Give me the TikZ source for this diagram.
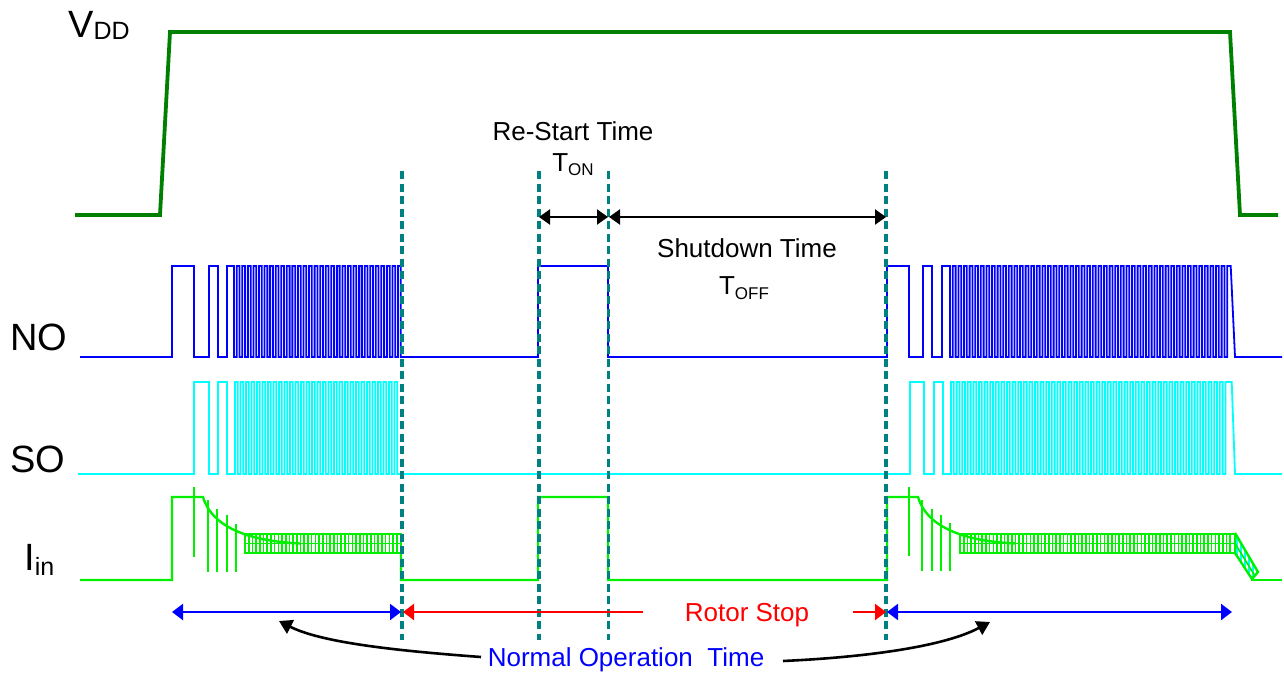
\documentclass[tikz,border=0pt]{standalone}
\usepackage{fontspec}
\setmainfont{Liberation Sans}
\usetikzlibrary{arrows.meta}
\definecolor{vddgreen}{RGB}{0,128,0}
\definecolor{noblue}{RGB}{0,0,255}
\definecolor{socyan}{RGB}{0,255,255}
\definecolor{iingreen}{RGB}{0,240,0}
\definecolor{dashteal}{RGB}{0,128,128}
\definecolor{rotorred}{RGB}{255,0,0}
\newcommand{\fsz}[1]{\fontsize{#1}{#1}\selectfont}
\newcommand{\lowsub}[3]{\raisebox{-#1pt}{\fsz{#2}#3}}
\begin{document}
\begin{tikzpicture}[x=1pt,y=-1pt,
  vddline/.style={vddgreen,line width=3.8pt},
  noline/.style={noblue,line width=1.8pt},
  soline/.style={socyan,line width=1.8pt},
  iinline/.style={iingreen,line width=2.4pt},
  combline/.style={iingreen,line width=1.6pt},
  marker/.style={dashteal,line width=3.4pt,dash pattern=on 8pt off 4.5pt},
  dimarrow/.style={black,line width=2.2pt,{Triangle[length=11pt,width=15pt]}-{Triangle[length=11pt,width=15pt]}},
  bluespan/.style={noblue,line width=2.4pt,{Triangle[length=11pt,width=16pt]}-{Triangle[length=11pt,width=16pt]}},
  redspan/.style={rotorred,line width=2.4pt},
  callout/.style={black,line width=2.6pt,-{Triangle[length=13pt,width=15pt]}},
  lbl/.style={inner sep=0pt,font=\fsz{26}},
  siglbl/.style={inner sep=0pt,font=\fsz{38},anchor=base west}]
\useasboundingbox (0,0) rectangle (1284,674);
\fill[white] (0,0) rectangle (1284,674);

% ---------------- labels ----------------
\node[siglbl] (lvdd) at (68,38) {V\lowsub{2}{25}{DD}};
\node[siglbl] (lno) at (10,350) {NO};
\node[siglbl] (lso) at (10,472) {SO};
\node[siglbl] (liin) at (24,570) {I\lowsub{5}{25}{in}};

% ---------------- VDD ----------------
\draw[vddline] (75,215) -- (160,215) -- (170,32) -- (1230,32) -- (1240,215) -- (1278,215);

% ---------------- NO ----------------
\draw[noline] (80,357) -- (172,357) -- (172,266) -- (194,266) -- (194,357)
  -- (209,357) -- (209,266) -- (218,266) -- (218,357)
  -- (227,357) -- (227,266) -- (234,266) -- (234,357)
  \foreach \i in {1,...,30} { -- ++(2.78,0) -- ++(0,-91) -- ++(2.78,0) -- ++(0,91) }
  -- (538,357) -- (538,266) -- (608,266) -- (608,357)
  -- (887,357) -- (887,266) -- (909,266) -- (909,357)
  -- (923,357) -- (923,266) -- (932,266) -- (932,357)
  -- (942,357) -- (942,266) -- (950,266) -- (950,357)
  \foreach \i in {1,...,49} { -- ++(2.8,0) -- ++(0,-91) -- ++(2.8,0) -- ++(0,91) }
  -- ++(2.8,0) -- ++(0,-91) -- (1230.7,266) -- (1235,357) -- (1282,357);

% ---------------- SO ----------------
\draw[soline] (78,474) -- (194,474) -- (194,382) -- (209,382) -- (209,474)
  -- (218,474) -- (218,382) -- (227,382) -- (227,474) -- (235,474)
  \foreach \i in {1,...,30} { -- ++(0,-92) -- ++(2.75,0) -- ++(0,92) -- ++(2.75,0) }
  -- (910,474) -- (910,382) -- (924,382) -- (924,474)
  -- (934,474) -- (934,382) -- (943,382) -- (943,474) -- (951,474)
  \foreach \i in {1,...,49} { -- ++(0,-92) -- ++(2.8,0) -- ++(0,92) -- ++(2.8,0) }
  -- ++(0,-92) -- (1231.7,382) -- (1235,474) -- (1282,474);

% ---------------- Iin ----------------
\draw[iinline] (80,580) -- (172,580) -- (172,497) -- (203,497)
  .. controls (211,525) and (245,541) .. (300,543.5);
\foreach \xs/\ys/\ye in {194/487/557, 208/500/572, 217/509/572, 227/515/572, 236/524/572}
  \draw[iinline] (\xs,\ys) -- (\xs,\ye);
\draw[iinline] (245,534) rectangle (401,553);
\draw[combline] (245,543.5) -- (401,543.5);
\foreach \x in {248.7,252.4,...,398} \draw[combline] (\x,534) -- (\x,553);
\draw[iinline] (401,553) -- (401,580) -- (538,580) -- (538,497) -- (608,497) -- (608,580)
  -- (887,580) -- (887,497) -- (918,497)
  .. controls (926,525) and (960,541) .. (1015,543.5);
\foreach \xs/\ys/\ye in {909/487/556, 922/500/571, 932/509/571, 941/515/571, 950/523/571}
  \draw[iinline] (\xs,\ys) -- (\xs,\ye);
\draw[iinline] (960,534) rectangle (1235,553);
\draw[combline] (960,543.5) -- (1235,543.5);
\foreach \x in {963.7,967.4,...,1233} \draw[combline] (\x,534) -- (\x,553);
\begin{scope}
  \clip (1235,533) -- (1258,572) -- (1252,579) -- (1235,553) -- cycle;
  \foreach \x in {1237,1241,...,1258} \draw[socyan,line width=1.5pt] (\x,530) -- (\x,582);
\end{scope}
\draw[iinline] (1235,533) -- (1258,572) -- (1252,579) -- (1235,553);
\draw[combline] (1235,543.5) -- (1255,576);
\draw[iinline] (1251,580) -- (1282,580);

% ---------------- dashed markers ----------------
\coordinate (m1t) at (402,171); \coordinate (m1b) at (402,640);
\coordinate (m2t) at (539,171); \coordinate (m2b) at (539,640);
\coordinate (m3t) at (608.5,171); \coordinate (m3b) at (608.5,640);
\coordinate (m4t) at (886,171); \coordinate (m4b) at (886,640);
\draw[marker] (m1t) -- (m1b);
\draw[marker] (m2t) -- (m2b);
\draw[marker] (m3t) -- (m3b);
\draw[marker] (m4t) -- (m4b);

% ---------------- timing arrows ----------------
\coordinate (ton-l) at (539,217); \coordinate (ton-r) at (608,217);
\coordinate (toff-l) at (609,217); \coordinate (toff-r) at (886,217);
\draw[dimarrow] (ton-l) -- (ton-r);
\draw[dimarrow] (toff-l) -- (toff-r);
\node[lbl,anchor=base] (restart) at (573,140) {Re-Start Time};
\node[lbl,anchor=base] (ton) at (573,171) {T\lowsub{5}{17}{ON}};
\node[lbl,anchor=base] (shutdown) at (747,257) {Shutdown Time};
\node[lbl,anchor=base] (toff) at (744,294) {T\lowsub{5}{17}{OFF}};

% ---------------- bottom spans ----------------
\coordinate (n1l) at (172,612); \coordinate (n1r) at (401,612);
\coordinate (r1l) at (403,612); \coordinate (r1r) at (643,612);
\coordinate (r2l) at (853,612); \coordinate (r2r) at (886,612);
\coordinate (n2l) at (887,612); \coordinate (n2r) at (1232,612);
\draw[bluespan] (n1l) -- (n1r);
\draw[redspan,{Triangle[length=11pt,width=16pt]}-] (r1l) -- (r1r);
\draw[redspan,-{Triangle[length=11pt,width=16pt]}] (r2l) -- (r2r);
\draw[bluespan] (n2l) -- (n2r);
\node[lbl,anchor=base,text=rotorred] (rotor) at (747,621) {Rotor Stop};
\node[lbl,anchor=base,text=noblue] (normal) at (626,666) {Normal Operation~~Time};
\coordinate (c1s) at (481,657); \coordinate (c1e) at (279,621);
\coordinate (c2s) at (783,661); \coordinate (c2e) at (990,622);
\draw[callout] (c1s) .. controls (400,651) and (322,643) .. (c1e);
\draw[callout] (c2s) .. controls (870,657) and (945,646) .. (c2e);
\end{tikzpicture}
\end{document}
